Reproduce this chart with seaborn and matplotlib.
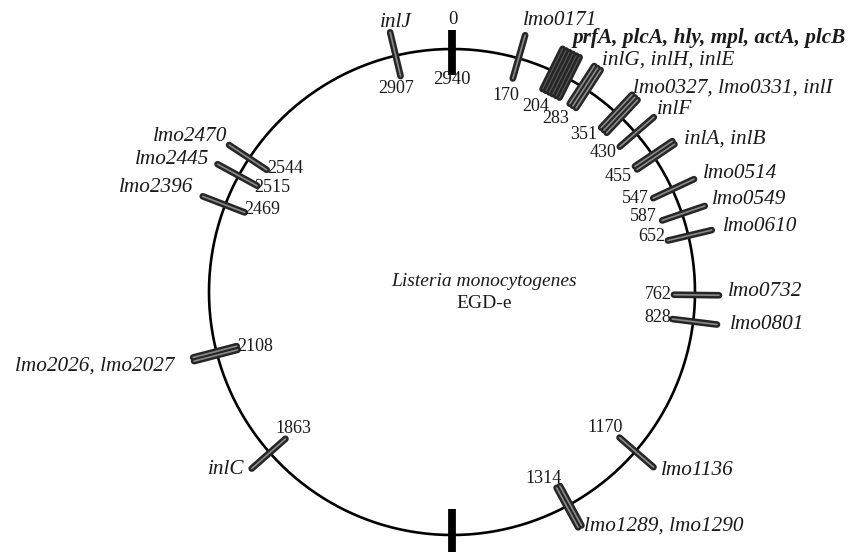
import numpy as np
import pandas as pd
import matplotlib
matplotlib.use("Agg")
import matplotlib.pyplot as plt
import seaborn as sns

# ---------------- data ----------------
positions = [2907, 170, 204, 283, 351, 430, 455, 547, 587, 652, 762, 828,
             1170, 1314, 1863, 2108, 2469, 2515, 2544]
genes = ["inlJ", "lmo0171", "prfA, plcA, hly, mpl, actA, plcB",
         "inlG, inlH, inlE", "lmo0327, lmo0331, inlI", "inlF", "inlA, inlB",
         "lmo0514", "lmo0549", "lmo0610", "lmo0732", "lmo0801", "lmo1136",
         "lmo1289, lmo1290", "inlC", "lmo2026, lmo2027", "lmo2396",
         "lmo2445", "lmo2470"]
# angle on the schematic map (degrees clockwise from the origin at top)
map_angle = [346.6, 15.9, 26.5, 33.0, 43.2, 49.1, 56.0, 65.0, 71.2, 76.6,
             90.7, 97.0, 131.0, 151.4, 228.6, 255.4, 291.0, 298.6, 303.4]
bold_genes = ["prfA, plcA, hly, mpl, actA, plcB"]
landmark_angle = [0.0, 180.0]          # origin / terminus marks
origin_labels = ["0", "2940"]
title_lines = ["Listeria monocytogenes", "EGD-e"]

# ---------------- layout ----------------
CX, CY, R = 452.0, 292.0, 243.0
gene_off = {2907: (0, -33, "center"), 170: (4, -38, "left"),
            204: (12, -37, "left"), 283: (18, -28, "left"),
            351: (15, -27, "left"), 430: (21, -23, "left"),
            455: (31, -17, "left"), 547: (31, -16, "left"),
            587: (30, -14, "left"), 652: (34, -9, "left"),
            762: (33, -3, "left"), 828: (37, 3, "left"),
            1170: (25, 19, "left"), 1314: (16, 21, "left"),
            1863: (-25, 17, "right"), 2108: (-42, 13, "right"),
            2469: (-32, -17, "right"), 2515: (-29, -16, "right"),
            2544: (-22, -22, "right")}
num_off = {2907: (0, 33), 170: (-13, 37), 204: (-25, 32), 283: (-29, 30),
           351: (-35, 20), 430: (-33, 20), 455: (-35, 20), 547: (-37, 9),
           587: (-39, 3), 652: (-37, 1), 762: (-37, 0), 828: (-35, -4),
           1170: (-30, -24), 1314: (-25, -27), 1863: (24, -24),
           2108: (38, -7), 2469: (37, 5), 2515: (34, 12), 2544: (36, 10)}
origin_off = [(1, -29), (0, 30)]
TICK_IN, TICK_OUT = 21, 24
SPACING = 3.8

sns.set_theme(style="white")
plt.rcParams["font.family"] = ["Liberation Serif", "DejaVu Serif"]

fig = plt.figure(figsize=(8.58, 5.52), dpi=100)
ax = fig.add_axes([0, 0, 1, 1])
ax.set_xlim(0, 858)
ax.set_ylim(552, 0)
ax.axis("off")


def pt(a_deg, r):
    a = np.deg2rad(a_deg)
    return CX + r * np.sin(a), CY - r * np.cos(a)


# circle
th = np.linspace(0, 360, 721)
cx_, cy_ = pt(th, R)
sns.lineplot(x=cx_, y=cy_, sort=False, estimator=None, color="black",
             lw=1.9, ax=ax)

# gene ticks
rows = []
seg = 0
for p, g, a in zip(positions, genes, map_angle):
    n = len(g.split(", "))
    ar = np.deg2rad(a)
    tx, ty = np.cos(ar), np.sin(ar)
    for k in range(n):
        o = (k - (n - 1) / 2) * SPACING
        x0, y0 = pt(a, R - TICK_IN)
        x1, y1 = pt(a, R + TICK_OUT)
        rows.append(dict(x=x0 + o * tx, y=y0 + o * ty, seg=seg, n=n))
        rows.append(dict(x=x1 + o * tx, y=y1 + o * ty, seg=seg, n=n))
        seg += 1
ticks = pd.DataFrame(rows)
sns.lineplot(data=ticks, x="x", y="y", units="seg", estimator=None,
             sort=False, color="#262626", lw=4.8, ax=ax,
             solid_capstyle="round")
single = ticks[ticks["n"] < 6]
sns.lineplot(data=single, x="x", y="y", units="seg", estimator=None,
             sort=False, color="#8a8a8a", lw=1.2, ax=ax)
block = ticks[ticks["n"] >= 6]
sns.lineplot(data=block, x="x", y="y", units="seg", estimator=None,
             sort=False, color="#5a5a5a", lw=0.8, ax=ax)

# origin / terminus marks
lm = []
for i, a in enumerate(landmark_angle):
    x0, y0 = pt(a, R - 26)
    x1, y1 = pt(a, R + 19)
    lm += [dict(x=x0, y=y0, seg=i), dict(x=x1, y=y1, seg=i)]
sns.lineplot(data=pd.DataFrame(lm), x="x", y="y", units="seg",
             estimator=None, sort=False, color="black", lw=5.6, ax=ax,
             solid_capstyle="butt")

# labels
for p, g, a in zip(positions, genes, map_angle):
    bx, by = pt(a, R)
    dx, dy, ha = gene_off[p]
    ax.text(bx + dx, by + dy, g, ha=ha, va="center", fontsize=15.3,
            fontstyle="italic",
            fontweight="bold" if g in bold_genes else "normal",
            color="#1a1a1a")
    ndx, ndy = num_off[p]
    ax.text(bx + ndx, by + ndy, str(p), ha="center", va="center",
            fontsize=13, color="#1a1a1a")

bx, by = pt(landmark_angle[0], R)
for lab, (dx, dy) in zip(origin_labels, origin_off):
    ax.text(bx + dx, by + dy, lab, ha="center", va="center", fontsize=13.5,
            color="#1a1a1a")

ax.text(CX + 32, CY - 10, title_lines[0], ha="center", va="center",
        fontsize=14, fontstyle="italic", color="#1a1a1a")
ax.text(CX + 32, CY + 12, title_lines[1], ha="center", va="center",
        fontsize=14, color="#1a1a1a")

fig.savefig("out.png", dpi=100, facecolor="white")
